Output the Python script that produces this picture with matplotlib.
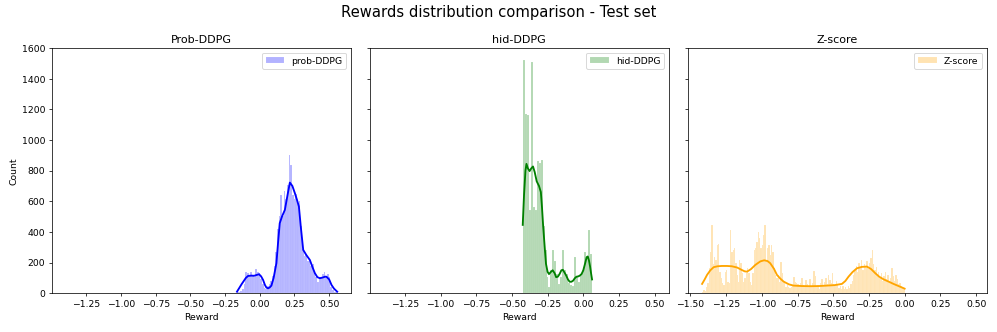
import numpy as np
import matplotlib.pyplot as plt

# histogram counts (bin start, bin width, counts)
prob_start = -0.164
prob_width = 0.012
prob_counts = [5, 10, 15, 30, 60, 137, 130, 110, 140, 120,
               105, 155, 137, 130, 94, 60, 35, 30, 45, 60,
               80, 115, 180, 270, 420, 507, 638, 507, 670, 617,
               703, 899, 838, 638, 617, 649, 584, 600, 442, 290,
               246, 255, 213, 213, 181, 190, 148, 105, 72, 94,
               105, 127, 137, 115, 127, 105, 40, 20, 10, 5]

hid_start = -0.424
hid_width = 0.01389
hid_counts = [1520, 1170, 1160, 540, 1510, 560, 540, 860, 850, 870,
              440, 280, 105, 40, 150, 280, 210, 125, 60, 105,
              285, 150, 125, 70, 55, 45, 235, 105, 75, 125,
              150, 270, 235, 410, 255]

z_start = -1.418
z_width = 0.009268
z_counts = [10, 20, 15, 40, 65, 163, 272, 446, 193, 235,
            220, 315, 320, 141, 98, 65, 54, 141, 152, 76,
            65, 413, 272, 282, 293, 196, 120, 76, 216, 196,
            130, 76, 98, 130, 163, 130, 76, 54, 130, 282,
            293, 337, 402, 359, 293, 315, 380, 446, 216, 293,
            315, 250, 315, 272, 163, 120, 98, 120, 76, 207,
            130, 76, 65, 44, 54, 44, 33, 44, 54, 109,
            76, 65, 60, 45, 70, 100, 55, 40, 85, 60,
            45, 95, 50, 70, 148, 110, 40, 55, 30, 65,
            90, 50, 75, 100, 60, 120, 85, 70, 130, 60,
            45, 80, 55, 35, 50, 30, 45, 25, 40, 30,
            50, 35, 60, 80, 120, 150, 180, 140, 200, 165,
            215, 150, 190, 170, 210, 160, 200, 228, 283, 190,
            150, 170, 120, 140, 100, 130, 80, 110, 140, 90,
            120, 75, 100, 163, 110, 80, 120, 95, 60, 70,
            45, 40, 25]

# kde curves
prob_kde_x = [-0.164, -0.13, -0.10, -0.084, -0.06, -0.04, -0.02, -0.005, 0.01, 0.024,
              0.037, 0.048, 0.06, 0.072, 0.084, 0.10, 0.12, 0.132, 0.144, 0.16,
              0.181, 0.20, 0.217, 0.235, 0.253, 0.268, 0.282, 0.295, 0.313, 0.335,
              0.361, 0.38, 0.397, 0.415, 0.433, 0.455, 0.47, 0.48, 0.50, 0.517,
              0.535, 0.558]
prob_kde_y = [10, 60, 100, 113, 115, 114, 120, 124, 110, 87,
              55, 37, 32, 38, 50, 100, 196, 330, 457, 500,
              544, 640, 722, 700, 653, 610, 566, 440, 283, 250,
              217, 170, 131, 105, 98, 103, 108, 108, 90, 54,
              30, 10]

hid_kde_x = [-0.424, -0.415, -0.405, -0.398, -0.388, -0.376, -0.364, -0.352, -0.34, -0.326,
             -0.31, -0.297, -0.289, -0.281, -0.27, -0.261, -0.25, -0.24, -0.226, -0.214,
             -0.2, -0.19, -0.178, -0.166, -0.153, -0.143, -0.131, -0.119, -0.107, -0.095,
             -0.083, -0.071, -0.059, -0.047, -0.035, -0.024, -0.012, 0.0, 0.012, 0.024,
             0.032, 0.04, 0.048, 0.055, 0.062]
hid_kde_y = [446, 640, 800, 844, 815, 797, 815, 827, 790, 730,
             700, 660, 560, 440, 300, 192, 140, 125, 140, 150,
             130, 105, 108, 125, 150, 153, 135, 115, 90, 75,
             75, 82, 98, 108, 110, 115, 125, 148, 190, 235,
             240, 215, 175, 130, 90]

z_kde_x = [-1.418, -1.40, -1.383, -1.36, -1.337, -1.31, -1.28, -1.243, -1.21, -1.173,
           -1.14, -1.12, -1.103, -1.075, -1.045, -1.01, -0.983, -0.96, -0.941, -0.915,
           -0.894, -0.87, -0.847, -0.81, -0.778, -0.72, -0.661, -0.60, -0.544, -0.49,
           -0.439, -0.415, -0.393, -0.365, -0.334, -0.30, -0.264, -0.235, -0.206, -0.178,
           -0.148, -0.11, -0.078, -0.04, 0.0]
z_kde_y = [61, 90, 120, 150, 170, 176, 178, 178, 176, 168,
           152, 143, 141, 158, 185, 208, 215, 210, 196, 160,
           120, 95, 76, 58, 50, 47, 46, 47, 50, 53,
           61, 80, 108, 138, 163, 172, 174, 158, 131, 108,
           91, 75, 61, 46, 30]

titles = ['Prob-DDPG', 'hid-DDPG', 'Z-score']
labels = ['prob-DDPG', 'hid-DDPG', 'Z-score']
colors = ['blue', 'green', 'orange']
xlims = [(-1.497, 0.656), (-1.496, 0.600), (-1.518, 0.575)]

hists = [(prob_start, prob_width, prob_counts),
         (hid_start, hid_width, hid_counts),
         (z_start, z_width, z_counts)]
kdes = [(prob_kde_x, prob_kde_y), (hid_kde_x, hid_kde_y), (z_kde_x, z_kde_y)]

fig, axes = plt.subplots(1, 3, figsize=(15, 5), dpi=66.47, sharey=True)
fig.subplots_adjust(left=0.052, right=0.9897, top=0.8545, bottom=0.1166, wspace=0.0635)

for ax, title, lab, col, xl, (st, w, cnt), (kx, ky) in zip(axes, titles, labels, colors,
                                                          xlims, hists, kdes):
    cnt = np.array(cnt)
    left_edges = st + w * np.arange(len(cnt))
    ax.bar(left_edges, cnt, width=w, align='edge', color=col, alpha=0.3,
           edgecolor='white', linewidth=0.3, label=lab)
    ax.plot(kx, ky, color=col, linewidth=2)
    ax.set_title(title)
    ax.set_xlabel('Reward')
    ax.set_xlim(xl)
    ax.legend(loc='upper right')

axes[0].set_ylim(0, 1600)
axes[0].set_ylabel('Count')

fig.suptitle('Rewards distribution comparison - Test set', fontsize=16, y=0.985)

plt.savefig('out.png', dpi=66.47)
